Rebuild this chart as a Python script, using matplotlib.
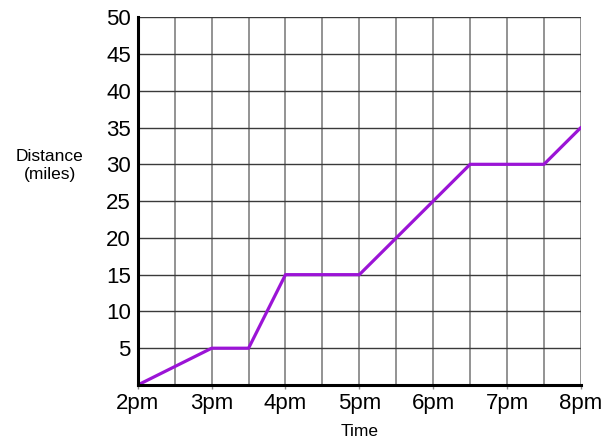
import matplotlib
matplotlib.use("Agg")
import matplotlib.pyplot as plt

plt.rcParams['font.family'] = ['Liberation Sans', 'DejaVu Sans']

# time in hours (2 = 2pm), distance in miles
time_h = [2, 3, 3.5, 4, 5, 6.5, 7.5, 8]
dist = [0, 5, 5, 15, 15, 30, 30, 35]

hour_ticks = [2, 3, 4, 5, 6, 7, 8]
hour_labels = ["2pm", "3pm", "4pm", "5pm", "6pm", "7pm", "8pm"]
dist_ticks = [5, 10, 15, 20, 25, 30, 35, 40, 45, 50]

fig = plt.figure(figsize=(6.07, 4.41), dpi=100)
ax = fig.add_axes([0.227, 0.127, 0.730, 0.834])

# grid lines
for x in [2 + 0.5 * i for i in range(1, 13)]:
    ax.axvline(x, color="#8a8a8a", lw=1.3, zorder=1)
for y in dist_ticks:
    ax.axhline(y, color="#3a3a3a", lw=1.0, zorder=1)

ax.plot(time_h, dist, color="#9B14D6", lw=2.3, zorder=3, solid_capstyle="round")

ax.set_xlim(2, 8)
ax.set_ylim(0, 50)
ax.set_xticks(hour_ticks)
ax.set_xticklabels(hour_labels)
ax.set_yticks(dist_ticks)
ax.tick_params(axis="x", length=3, width=1, color="#8a8a8a", labelsize=16, pad=3)
ax.tick_params(axis="y", length=0, labelsize=16, pad=5)

for s in ["top", "right"]:
    ax.spines[s].set_visible(False)
ax.spines["left"].set_linewidth(2.2)
ax.spines["bottom"].set_linewidth(2.2)
ax.spines["left"].set_zorder(4)
ax.spines["bottom"].set_zorder(4)

ax.set_xlabel("Time", fontsize=12.5, labelpad=7)
ax.set_ylabel("Distance\n(miles)", fontsize=12.5, rotation=0, labelpad=0,
              va="center", ha="center", linespacing=1.25)
ax.yaxis.set_label_coords(-0.199, 0.596)

fig.savefig("out.png", dpi=100)
